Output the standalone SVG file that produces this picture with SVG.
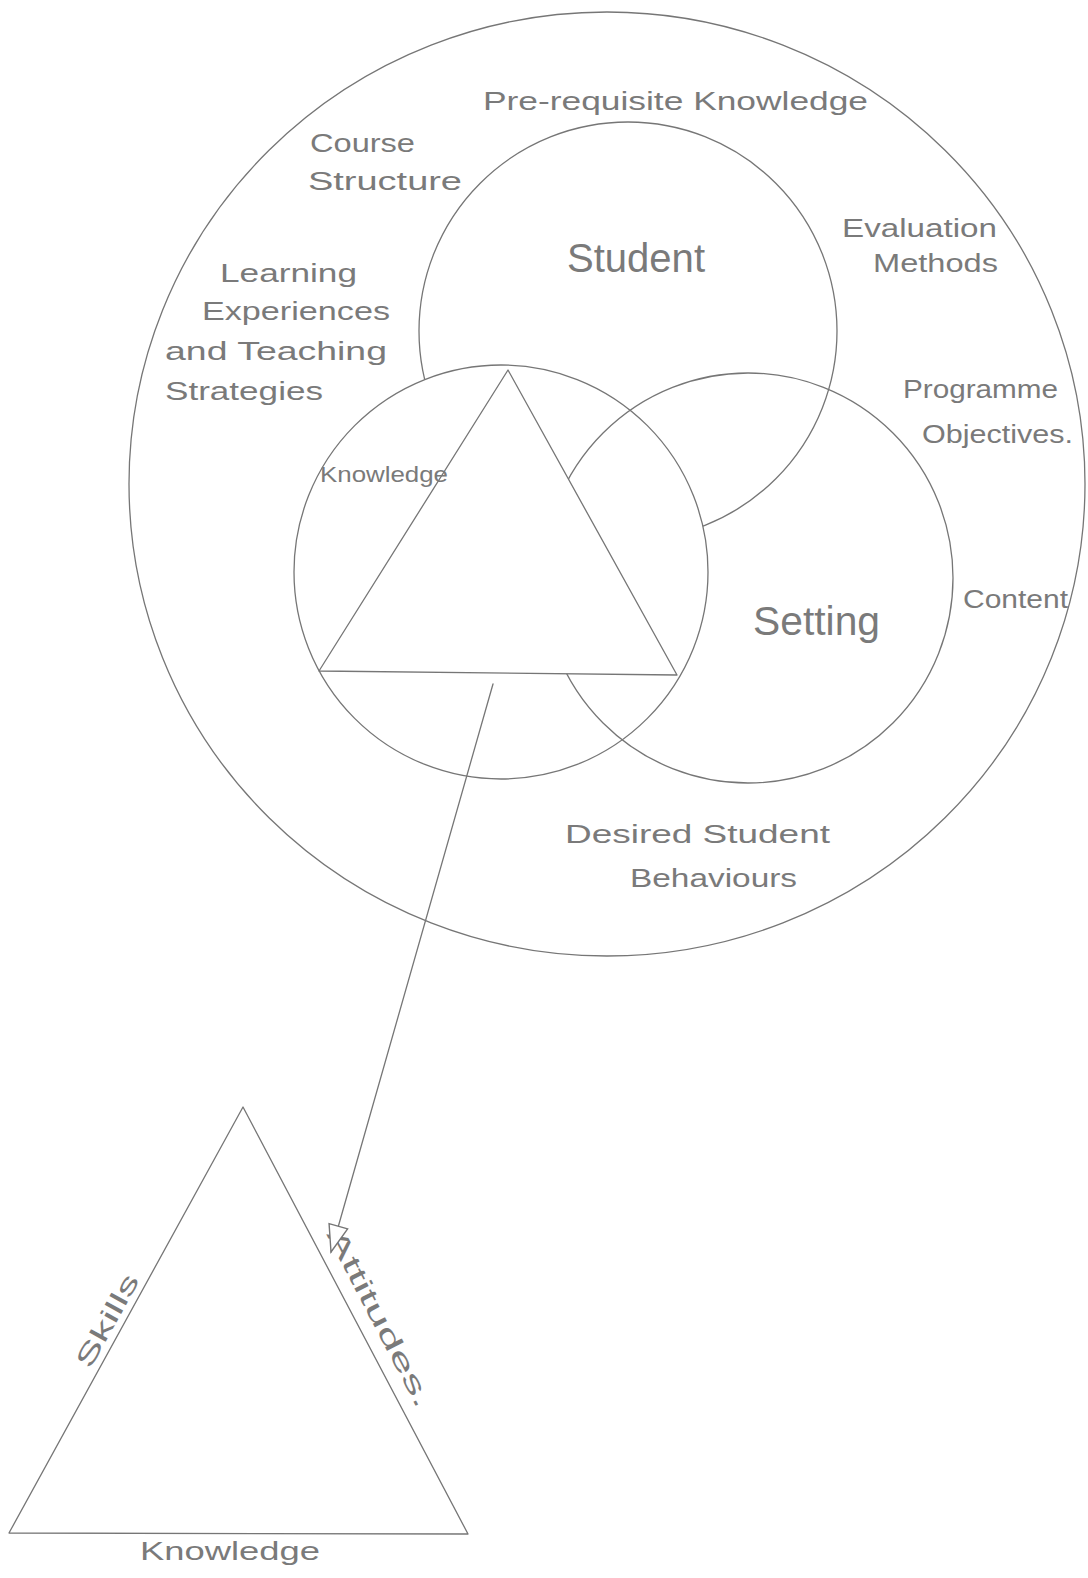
<svg xmlns="http://www.w3.org/2000/svg" width="1088" height="1578" viewBox="0 0 1088 1578">
<style>
.ln{fill:none;stroke:#767676;stroke-width:1.3;stroke-linecap:round;stroke-linejoin:round}
.wf{fill:#ffffff;stroke:#767676;stroke-width:1.3;stroke-linejoin:round}
.t{font-family:"Liberation Sans",Arial,sans-serif;fill:#7a7a7a;font-size:26px}
.big{font-size:40px}
.sm{font-size:22px}
</style>
<defs>
<marker id="arr" markerUnits="userSpaceOnUse" markerWidth="30" markerHeight="24" viewBox="-26 -11 28 22" refX="0" refY="0" orient="auto">
<path d="M0,0 L-25,-9 L-25,9 Z" fill="#ffffff" stroke="#767676" stroke-width="1.3"/>
</marker>
</defs>
<rect width="1088" height="1578" fill="#ffffff"/>
<g id="outer-circle">
<ellipse class="ln" cx="607" cy="484" rx="478" ry="472"/>
</g>
<g id="student">
<circle class="ln" cx="628" cy="331" r="209"/>
</g>
<g id="knowledge-circle">
<circle class="wf" cx="501" cy="572" r="207"/>
</g>
<g id="setting">
<circle class="ln" cx="748" cy="578" r="205"/>
</g>
<g id="top-triangle">
<polygon class="wf" points="508,370 319,671 677,675"/>
</g>
<g id="labels">
<text class="t" x="483" y="110" font-size="30" textLength="385" lengthAdjust="spacingAndGlyphs">Pre-requisite Knowledge</text>
<text class="t" x="310" y="152" textLength="105" lengthAdjust="spacingAndGlyphs">Course</text>
<text class="t" x="308" y="190" textLength="154" lengthAdjust="spacingAndGlyphs">Structure</text>
<text class="t big" x="567" y="272" textLength="138" lengthAdjust="spacingAndGlyphs">Student</text>
<text class="t" x="842" y="237" textLength="155" lengthAdjust="spacingAndGlyphs">Evaluation</text>
<text class="t" x="873" y="272" textLength="125" lengthAdjust="spacingAndGlyphs">Methods</text>
<text class="t" x="220" y="282" textLength="137" lengthAdjust="spacingAndGlyphs">Learning</text>
<text class="t" x="202" y="320" textLength="188" lengthAdjust="spacingAndGlyphs">Experiences</text>
<text class="t" x="165" y="360" textLength="222" lengthAdjust="spacingAndGlyphs">and Teaching</text>
<text class="t" x="165" y="400" textLength="158" lengthAdjust="spacingAndGlyphs">Strategies</text>
<text class="t" x="903" y="398" textLength="155" lengthAdjust="spacingAndGlyphs">Programme</text>
<text class="t" x="922" y="443" textLength="151" lengthAdjust="spacingAndGlyphs">Objectives.</text>
<text class="t sm" x="320" y="482" textLength="128" lengthAdjust="spacingAndGlyphs">Knowledge</text>
<text class="t big" x="753" y="635" textLength="127" lengthAdjust="spacingAndGlyphs">Setting</text>
<text class="t" x="963" y="608" textLength="105" lengthAdjust="spacingAndGlyphs">Content</text>
<text class="t" x="565" y="843" font-size="27" textLength="265" lengthAdjust="spacingAndGlyphs">Desired Student</text>
<text class="t" x="630" y="887" font-size="27" textLength="167" lengthAdjust="spacingAndGlyphs">Behaviours</text>
</g>
<g id="bottom-triangle">
<polygon class="ln" points="243,1107 9,1533 468,1534"/>
<text class="t" font-size="28" text-anchor="middle" textLength="103" lengthAdjust="spacingAndGlyphs" transform="translate(115,1325) rotate(-61)">Skills</text>
<text class="t" font-size="28" text-anchor="middle" textLength="198" lengthAdjust="spacingAndGlyphs" transform="translate(372,1322) rotate(62.5)">Attitudes.</text>
<text class="t" x="140" y="1560" font-size="28" textLength="180" lengthAdjust="spacingAndGlyphs">Knowledge</text>
</g>
<g id="connectors">
<line class="ln" x1="493" y1="684" x2="331" y2="1252" marker-end="url(#arr)"/>
</g>
</svg>
